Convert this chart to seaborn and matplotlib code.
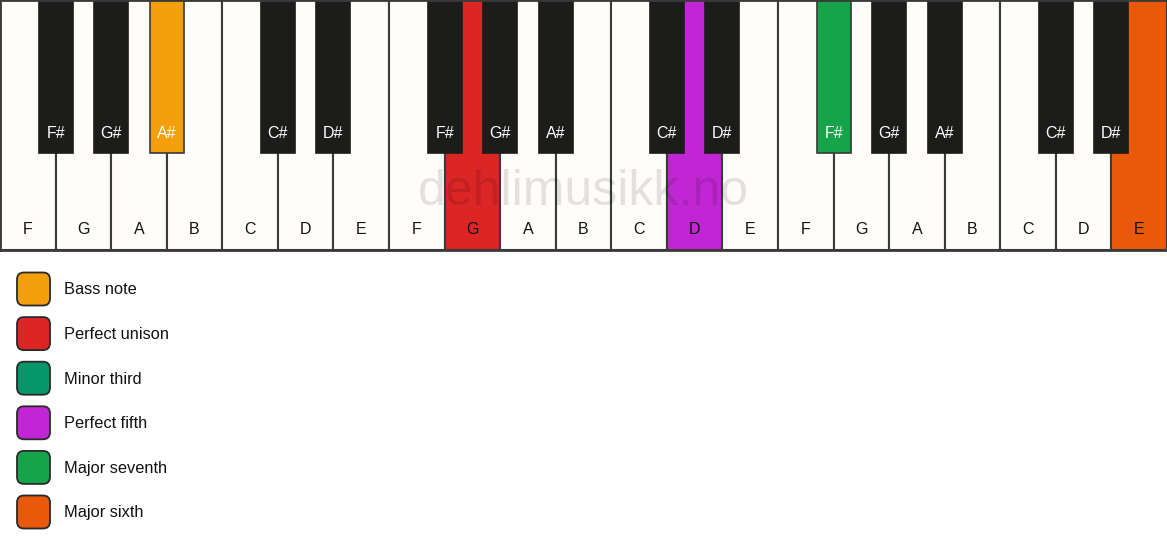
import numpy as np
import matplotlib
matplotlib.use("Agg")
import matplotlib.pyplot as plt
import seaborn as sns
from matplotlib.patches import FancyBboxPatch

# ==============================
# DATA
# ==============================

white_notes = ["F", "G", "A", "B", "C", "D", "E",
               "F", "G", "A", "B", "C", "D", "E",
               "F", "G", "A", "B", "C", "D", "E"]

# black key sits to the right of this white key index
black_after = [0, 1, 2, 4, 5, 7, 8, 9, 11, 12, 14, 15, 16, 18, 19]
black_notes = ["F#", "G#", "A#", "C#", "D#",
               "F#", "G#", "A#", "C#", "D#",
               "F#", "G#", "A#", "C#", "D#"]

# highlighted keys -> interval
highlight_white = {8: "Perfect unison", 12: "Perfect fifth", 20: "Major sixth"}
highlight_black = {2: "Bass note", 10: "Major seventh"}

legend_labels = ["Bass note", "Perfect unison", "Minor third",
                 "Perfect fifth", "Major seventh", "Major sixth"]
legend_colors = ["#F59E0B", "#DC2626", "#059669",
                 "#C026D3", "#16A34A", "#EA580C"]
color_of = dict(zip(legend_labels, legend_colors))

WHITE = "#FFFDF9"
BLACK = "#1C1C1A"
EDGE = "#3A3A3A"

# ==============================
# FIGURE
# ==============================

sns.set_theme(style="white")
plt.rcParams["font.family"] = ["Liberation Sans", "DejaVu Sans"]

W, H = 1167, 550
fig = plt.figure(figsize=(W / 100, H / 100), dpi=100)

# keyboard axes (top 250 px)
ax = fig.add_axes([0, 1 - 250 / H, 1, 250 / H])

white_colors = [color_of[highlight_white[i]] if i in highlight_white else WHITE
                for i in range(len(white_notes))]
sns.barplot(x=list(range(len(white_notes))), y=[1] * len(white_notes),
            palette=white_colors, hue=list(range(len(white_notes))),
            legend=False, width=1.0, edgecolor=EDGE, linewidth=1.5,
            saturation=1, ax=ax)

black_w = 34 / (W / 21)
black_bottom = 1 - 153 / 250
for k, (i, name) in enumerate(zip(black_after, black_notes)):
    c = color_of[highlight_black[k]] if k in highlight_black else BLACK
    ax.bar(i + 0.5, 1 - black_bottom, bottom=black_bottom, width=black_w,
           color=c, edgecolor=EDGE if c != BLACK else BLACK,
           linewidth=1.2, zorder=3)
    ax.text(i + 0.5, 1 - 133 / 250, name, ha="center", va="center",
            color="white", fontsize=11.5, zorder=4)

for i, name in enumerate(white_notes):
    ax.text(i, 1 - 230 / 250, name, ha="center", va="center",
            color="#111111", fontsize=11.5, zorder=4)

ax.set_xlim(-0.5, len(white_notes) - 0.5)
ax.set_ylim(0, 1)
ax.axis("off")

# outer border
ax.plot([-0.5, 20.5, 20.5, -0.5, -0.5], [0, 0, 1, 1, 0],
        color=EDGE, linewidth=2, zorder=5, clip_on=False)

# watermark
ax.text(10, 1 - 192 / 250, "dehlimusikk.no", ha="center", va="center",
        fontsize=36, color="black", alpha=0.11, zorder=6)

# ==============================
# LEGEND
# ==============================

lax = fig.add_axes([0, 0, 1, 1 - 250 / H])
lax.set_xlim(0, W)
lax.set_ylim(H, 250)
lax.axis("off")

for k, (lab, col) in enumerate(zip(legend_labels, legend_colors)):
    yc = 289 + k * 44.6
    box = FancyBboxPatch((17, yc - 16.5), 33, 33,
                         boxstyle="round,pad=0,rounding_size=7",
                         facecolor=col, edgecolor="#2A2A2A", linewidth=1.3)
    lax.add_patch(box)
    lax.text(64, yc + 1, lab, ha="left", va="center", fontsize=11.8,
             color="#111111")

plt.savefig("out.png", dpi=100, facecolor="white")
